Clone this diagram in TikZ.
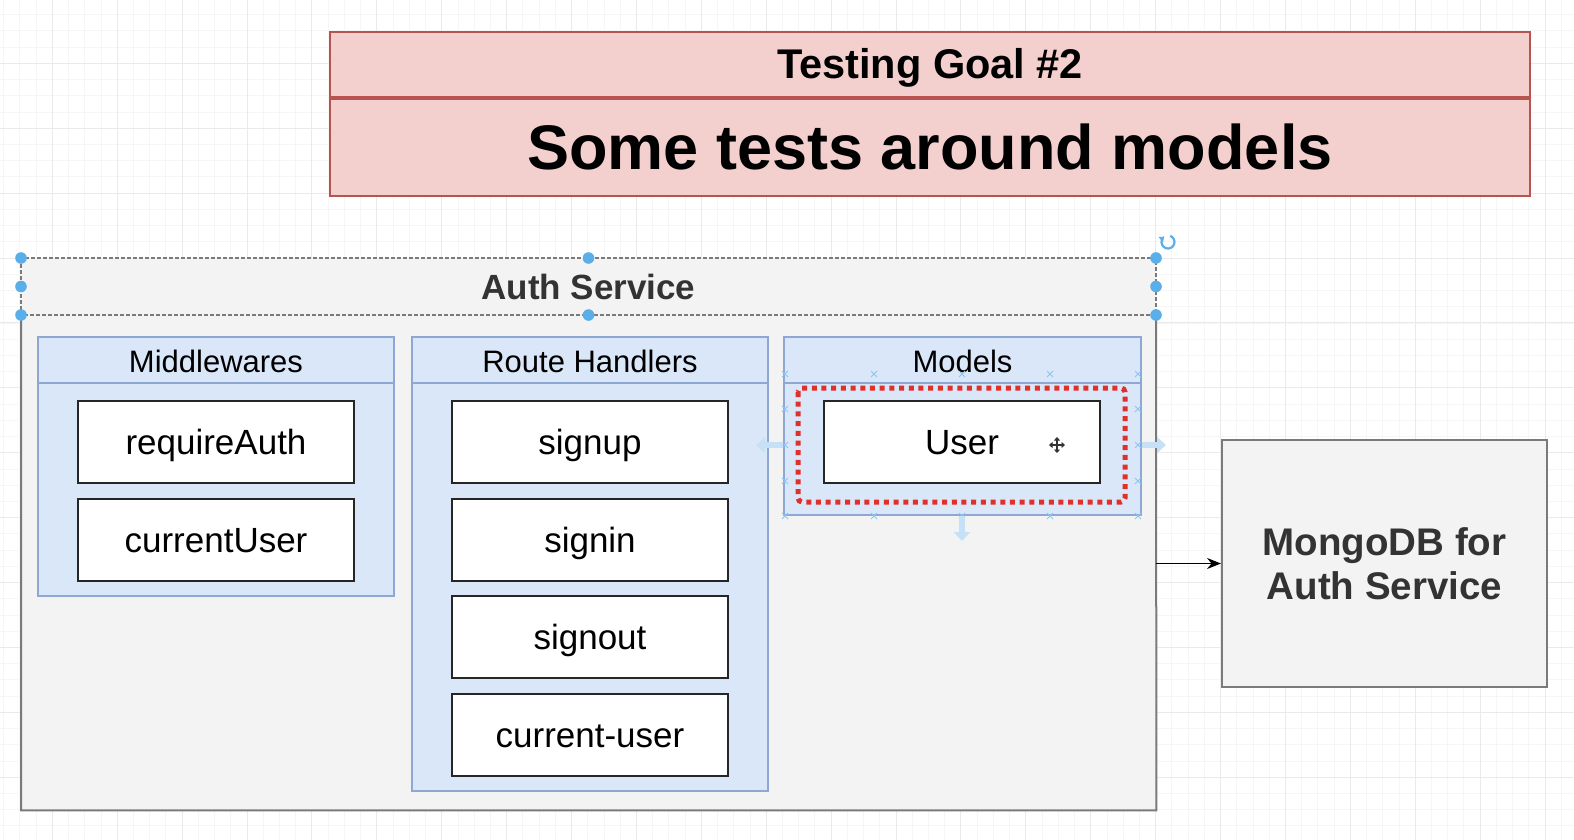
\documentclass[tikz,border=0pt]{standalone}
\usepackage{fontspec}
\setmainfont{Liberation Sans}
\usetikzlibrary{arrows.meta}
\definecolor{pinkfill}{HTML}{F3CFCE}
\definecolor{pinkline}{HTML}{B85450}
\definecolor{grayfill}{HTML}{F3F3F3}
\definecolor{grayline}{HTML}{7A7A7A}
\definecolor{bluefill}{HTML}{DAE7F9}
\definecolor{blueline}{HTML}{8EA8D3}
\definecolor{handle}{HTML}{5AAEEA}
\definecolor{reddot}{HTML}{E0302A}
\definecolor{hover}{HTML}{C6E1F5}
\definecolor{gridminor}{HTML}{F6F6F6}
\definecolor{gridmajor}{HTML}{EAEAEA}
\definecolor{darktext}{HTML}{333333}
\begin{document}
\begin{tikzpicture}[x=1pt,y=-1pt,
  titlebox/.style={draw=pinkline,fill=pinkfill,line width=2pt,anchor=north west,inner sep=0pt,font=\bfseries,text depth=0pt},
  container/.style={draw=blueline,fill=bluefill,line width=2pt,anchor=north west,inner sep=0pt},
  itembox/.style={draw=black!85,fill=white,line width=2pt,anchor=north west,inner sep=0pt,text height=24.5pt,text depth=0pt,
     minimum width=276,minimum height=81.5,font=\fontsize{35}{40}\selectfont},
  clabel/.style={font=\fontsize{31}{36}\selectfont,inner sep=0pt,text height=21.7pt,text depth=0pt},
  grayboxstyle/.style={fill=grayfill,anchor=north west,inner sep=0pt},
  hnd/.style={fill=handle,draw=none},
  xmark/.style={draw=handle!70,line width=0.9pt},
  hoverarrow/.style={draw=hover,line width=6pt,-{Triangle[length=9pt,width=16pt]}},
]
\useasboundingbox (0,0) rectangle (1574,840);
\fill[white] (0,0) rectangle (1574,840);
% grid
\foreach \i in {0,...,97} \draw[gridminor,line width=0.8pt] ({3.6+16.225*\i},0) -- ++(0,840);
\foreach \j in {0,...,52} \draw[gridminor,line width=0.8pt] (0,{-1.6+16.225*\j}) -- ++(1574,0);
\foreach \i in {0,...,25} \draw[gridmajor,line width=1pt] ({-12.6+64.9*\i},0) -- ++(0,840);
\foreach \j in {0,...,13} \draw[gridmajor,line width=1pt] (0,{-1.6+64.9*\j}) -- ++(1574,0);

% title
\node[titlebox,minimum width=1200,minimum height=65,text height=29pt,font=\bfseries\fontsize{41.5}{46}\selectfont] (goal) at (329,31) {Testing Goal \#2};
\node[titlebox,minimum width=1200,minimum height=97,text height=44pt,font=\bfseries\fontsize{63}{70}\selectfont,anchor=north] (goaltext) at (goal.south) {Some tests around models};

% auth service
\node[grayboxstyle,minimum width=1135,minimum height=552] (auth) at (21,258) {};
\coordinate (hdl) at (21,315);
\coordinate (hdr) at (1156,315);
\draw[grayline,line width=2pt] (hdl) -- (auth.south west) -- (auth.south east) -- (hdr);
\draw[grayline,line width=1.2pt,dash pattern=on 4pt off 2pt] (auth.north west) rectangle (hdr);
\node[font=\bfseries\fontsize{35}{40}\selectfont,text=darktext,inner sep=0pt,text height=24.5pt,text depth=0pt] (authlabel) at (588.5,287) {Auth Service};

% containers
\node[container,minimum width=356,minimum height=259] (mw) at (37,336) {};
\node[container,minimum width=356,minimum height=454] (rh) at (411,336) {};
\node[container,minimum width=357,minimum height=178] (md) at (783,336) {};
\foreach \c in {mw,rh,md} \draw[blueline,line width=2pt] ([yshift=-47pt]\c.north west) -- ([yshift=-47pt]\c.north east);
\node[clabel] (mwl) at ([yshift=-26pt]mw.north) {Middlewares};
\node[clabel] (rhl) at ([yshift=-26pt]rh.north) {Route Handlers};
\node[clabel] (mdl) at ([yshift=-26pt]md.north) {Models};

% items
\node[itembox] (ra) at (77,400) {requireAuth};
\node[itembox] (cu) at (77,498) {currentUser};
\node[itembox] (su) at (451,400) {signup};
\node[itembox] (si) at (451,498) {signin};
\node[itembox] (so) at (451,595) {signout};
\node[itembox] (cur) at (451,693) {current-user};
\node[itembox] (user) at (823,400) {User};

% selection decorations on Models
\draw[reddot,line width=5pt,dash pattern=on 5pt off 4.7pt,rounded corners=4pt] (798,388) rectangle (1125,502);
\foreach \x in {785,874,962,1050,1138} {
  \foreach \y in {374,516} {\draw[xmark] (\x-3,\y-3) -- (\x+3,\y+3) (\x-3,\y+3) -- (\x+3,\y-3);}
}
\foreach \x in {785,1138} {
  \foreach \y in {409,445,481} {\draw[xmark] (\x-3,\y-3) -- (\x+3,\y+3) (\x-3,\y+3) -- (\x+3,\y-3);}
}
\coordinate (hl) at (756,445);
\coordinate (hr) at (1166,445);
\coordinate (hb) at (962,541);
\draw[hoverarrow] (md.west |- hl) -- (hl);
\draw[hoverarrow] (md.east |- hr) -- (hr);
\draw[hoverarrow] (md.south -| hb) -- (hb);
% move cursor
\coordinate (mc) at (1057,445);
\draw[white,line width=4pt] ([xshift=-9pt]mc) -- ([xshift=9pt]mc) ([yshift=-9pt]mc) -- ([yshift=9pt]mc);
\draw[black!80,line width=1.6pt,{Triangle[length=3.5pt,width=6pt]}-{Triangle[length=3.5pt,width=6pt]}] ([xshift=-8pt]mc) -- ([xshift=8pt]mc);
\draw[black!80,line width=1.6pt,{Triangle[length=3.5pt,width=6pt]}-{Triangle[length=3.5pt,width=6pt]}] ([yshift=-8pt]mc) -- ([yshift=8pt]mc);

% selection handles on Auth header
\foreach \p in {(21,258),(588.5,258),(1156,258),(21,286.5),(1156,286.5),(21,315),(588.5,315),(1156,315)} \fill[hnd] \p circle (5.8pt);
% rotation icon
\coordinate (rot) at (1168,242);
\draw[handle,line width=2.2pt,-{Triangle[length=4pt,width=7pt]}] ([shift={(70:6.5pt)}]rot) arc[start angle=70,end angle=-230,radius=6.5pt];

% MongoDB
\node[fill=grayfill,draw=grayline,line width=2pt,anchor=north west,inner sep=0pt,minimum width=325,minimum height=247,
  align=center,text=darktext,font=\bfseries\fontsize{38.5}{44.5}\selectfont] (mongo) at (1221,439) {MongoDB for\\Auth Service};
\draw[black,line width=1.6pt,-{Stealth[length=14pt,width=11pt]}] (mongo.west -| auth.east) -- (mongo.west);
\end{tikzpicture}
\end{document}
